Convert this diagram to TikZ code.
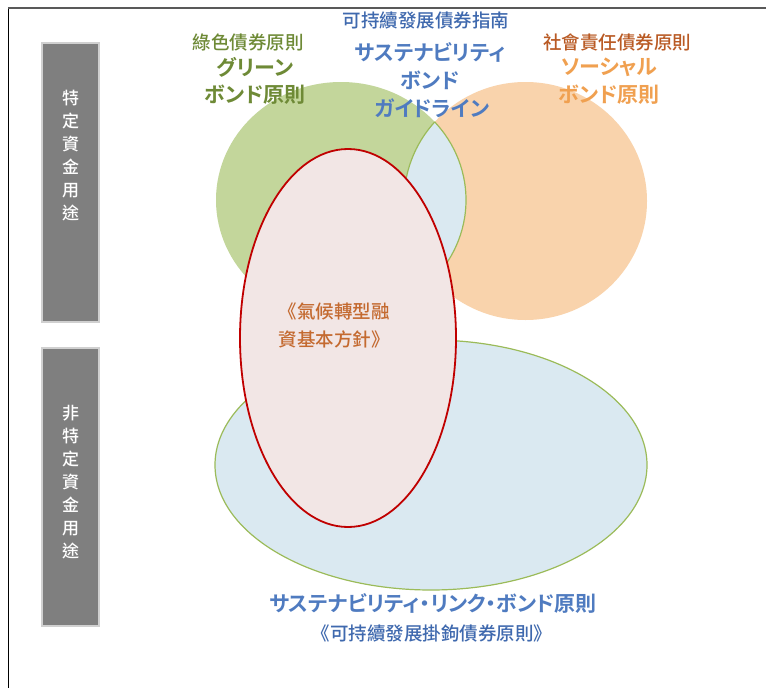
\documentclass[tikz,border=0pt]{standalone}
\usepackage{fontspec}
\newfontfamily\tc{Noto Sans CJK TC Medium}
\newfontfamily\jpb{Noto Sans CJK JP Bold}[RawFeature=+palt]
\definecolor{gfill}{HTML}{C3D69B}
\definecolor{ofill}{HTML}{F9D3AC}
\definecolor{lblue}{HTML}{DAE9F1}
\definecolor{gline}{HTML}{9BBB59}
\definecolor{rfill}{HTML}{F2E6E5}
\definecolor{rline}{HTML}{C00000}
\definecolor{barfill}{HTML}{7F7F7F}
\definecolor{barline}{HTML}{D0D0D0}
\definecolor{gtxt}{HTML}{6E8A36}
\definecolor{btxt}{HTML}{4F7BC0}
\definecolor{b2txt}{HTML}{3F69AE}
\definecolor{otxt}{HTML}{B95A24}
\definecolor{obtxt}{HTML}{F0A050}
\definecolor{rtxt}{HTML}{C46A30}
\tikzset{
  bar/.style={fill=barfill,draw=barline,line width=1.5pt},
  vtext/.style={text=white,font=\tc\fontsize{17}{23}\selectfont,align=center,inner sep=0},
  lab/.style={font=\tc\fontsize{18.5}{22}\selectfont,inner sep=0},
  big/.style={font=\jpb\fontsize{21}{28}\selectfont,inner sep=0},
}
\begin{document}
\begin{tikzpicture}[x=1pt,y=-1pt]
\useasboundingbox (0,0) rectangle (766,688);
\fill[white] (0,0) rectangle (766,688);
% frame
\draw[black,line width=1pt] (8,8) -- (8,688);
\draw[black!65,line width=2pt] (8,8) -- (766,8);
% bars
\draw[bar] (42,43) rectangle (99,322);
\draw[bar] (42,348) rectangle (99,626);
\node[vtext] (v1) at (70.5,156) {特\\定\\資\\金\\用\\途};
\node[vtext] (v2) at (70.5,482) {非\\特\\定\\資\\金\\用\\途};
% circles
\fill[gfill] (341,200) ellipse [x radius=125, y radius=118];
\fill[ofill] (525.5,201) ellipse [x radius=121.5, y radius=119];
\begin{scope}
  \clip (341,200) ellipse [x radius=125, y radius=118];
  \fill[lblue] (525.5,201) ellipse [x radius=121.5, y radius=119];
  \draw[gline,line width=1.2pt] (525.5,201) ellipse [x radius=121.5, y radius=119];
\end{scope}
\begin{scope}
  \clip (525.5,201) ellipse [x radius=121.5, y radius=119];
  \draw[gline,line width=1.2pt] (341,200) ellipse [x radius=125, y radius=118];
\end{scope}
% bottom ellipse
\filldraw[fill=lblue,draw=gline,line width=1.2pt] (431,465) ellipse [x radius=216, y radius=125];
% red ellipse
\filldraw[fill=rfill,draw=rline,line width=1.8pt] (348,338) ellipse [x radius=108, y radius=189];
% texts
\node[lab,text=gtxt] (g1) at (248,42) {綠色債券原則};
\node[big,text=gtxt] (g2) at (255,67) {グリーン};
\node[big,text=gtxt] (g3) at (255,95) {ボンド原則};
\node[lab,text=b2txt] (b1) at (426,20) {可持續發展債券指南};
\node[big,text=btxt] (b2) at (430,52) {サステナビリティ};
\node[big,text=btxt] (b3) at (430,80) {ボンド};
\node[big,text=btxt] (b4) at (432,108) {ガイドライン};
\node[lab,text=otxt] (o1) at (617,42) {社會責任債券原則};
\node[big,text=obtxt] (o2) at (609,67) {ソーシャル};
\node[big,text=obtxt] (o3) at (609,95) {ボンド原則};
\node[lab,text=rtxt,align=left,font=\tc\fontsize{18.5}{28}\selectfont] (r1) at (334,325) {《氣候轉型融\\資基本方針》};
\node[big,text=btxt] (s1) at (433,603) {サステナビリティ・リンク・ボンド原則};
\node[lab,text=b2txt] (s2) at (432,633) {《可持續發展掛鉤債券原則》};
\end{tikzpicture}
\end{document}
